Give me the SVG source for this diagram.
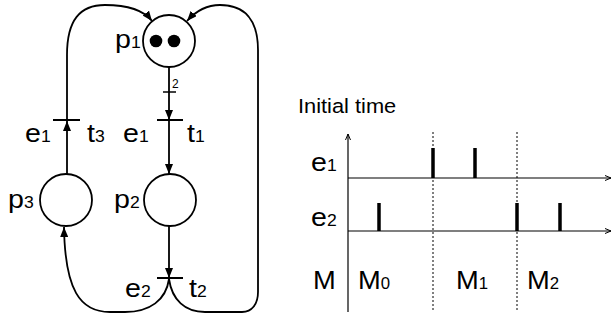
<svg xmlns="http://www.w3.org/2000/svg" width="612" height="320" viewBox="0 0 612 320">
<style>
.place{fill:#fff;stroke:#000;stroke-width:1.8}
.tok{fill:#000}
.bar{stroke:#000;stroke-width:2}
.arc{fill:none;stroke:#000;stroke-width:1.8}
.lbl{font-family:"Liberation Sans",Arial,sans-serif;font-size:26px;fill:#000}
.sub{font-size:16px}
.small{font-family:"Liberation Sans",Arial,sans-serif;font-size:12px;fill:#000}
.axis{stroke:#000;stroke-width:1.2;fill:none}
.dash{stroke:#000;stroke-width:1;stroke-dasharray:2 2}
.pulse{stroke:#000;stroke-width:3.5}
</style>
<defs>
<marker id="ah" markerWidth="10" markerHeight="8" refX="10" refY="4" orient="auto" markerUnits="userSpaceOnUse">
<path d="M0,0 L10,4 L0,8 Z" fill="#000"/>
</marker>
<marker id="ax" markerWidth="6" markerHeight="6" refX="6" refY="3" orient="auto" markerUnits="userSpaceOnUse">
<path d="M0,0.5 L6,3 L0,5.5" fill="none" stroke="#000" stroke-width="1"/>
</marker>
</defs>

<g id="connectors">
<line class="arc" x1="169" y1="67" x2="169" y2="120" marker-end="url(#ah)"/>
<line class="bar" x1="163" y1="92" x2="176" y2="92" style="stroke-width:1.5"/>
<line class="arc" x1="169" y1="120" x2="169" y2="174" marker-end="url(#ah)"/>
<line class="arc" x1="169" y1="226" x2="169" y2="278" marker-end="url(#ah)"/>
<line class="arc" x1="67" y1="174" x2="67" y2="121" marker-end="url(#ah)"/>
<path class="arc" d="M67 121 L67 55 C67 20 80 5 105 5 C130 5 145 12 152 21" marker-end="url(#ah)"/>
<path class="arc" d="M169 279 C172 300 185 312 205 312 L242 312 C252 312 258 304 258 292 L258 50 C258 20 245 5 220 5 C205 5 195 12 187 21" marker-end="url(#ah)"/>
<path class="arc" d="M169 279 C166 300 150 312 125 312 L110 312 C80 312 65 290 64 227" marker-end="url(#ah)"/>
</g>

<g id="p1">
<circle class="place" cx="169" cy="41" r="26"/>
<circle class="tok" cx="156" cy="41" r="6.3"/>
<circle class="tok" cx="174" cy="41" r="6.3"/>
<text class="lbl" transform="translate(115 48) scale(1.1 1)">p<tspan class="sub">1</tspan></text>
</g>
<g id="p2">
<circle class="place" cx="170" cy="200" r="26"/>
<text class="lbl" transform="translate(114 208) scale(1.1 1)">p<tspan class="sub">2</tspan></text>
</g>
<g id="p3">
<circle class="place" cx="66" cy="200" r="26"/>
<text class="lbl" transform="translate(8 208) scale(1.1 1)">p<tspan class="sub">3</tspan></text>
</g>
<g id="t1">
<line class="bar" x1="157" y1="120" x2="183" y2="120"/>
<text class="small" x="172" y="88">2</text>
<text class="lbl" transform="translate(123 142) scale(1.1 1)">e<tspan class="sub">1</tspan></text>
<text class="lbl" transform="translate(187 142) scale(1.1 1)">t<tspan class="sub">1</tspan></text>
</g>
<g id="t3">
<line class="bar" x1="53" y1="120" x2="80" y2="120"/>
<text class="lbl" transform="translate(25 142) scale(1.1 1)">e<tspan class="sub">1</tspan></text>
<text class="lbl" transform="translate(87 142) scale(1.1 1)">t<tspan class="sub">3</tspan></text>
</g>
<g id="t2">
<line class="bar" x1="157" y1="278" x2="183" y2="278"/>
<text class="lbl" transform="translate(125 297) scale(1.1 1)">e<tspan class="sub">2</tspan></text>
<text class="lbl" transform="translate(189 297) scale(1.1 1)">t<tspan class="sub">2</tspan></text>
</g>

<g id="timing">
<text class="lbl" transform="translate(298 113) scale(1.12 1)" style="font-size:19.5px">Initial time</text>
<line class="axis" x1="348" y1="312" x2="348" y2="134" marker-end="url(#ax)"/>
<line class="axis" x1="348" y1="178" x2="611" y2="178" marker-end="url(#ax)"/>
<line class="axis" x1="348" y1="231" x2="611" y2="231" marker-end="url(#ax)"/>
<line class="dash" x1="433" y1="132" x2="433" y2="312"/>
<line class="dash" x1="517" y1="132" x2="517" y2="312"/>
<line class="pulse" x1="433" y1="148" x2="433" y2="178"/>
<line class="pulse" x1="475" y1="148" x2="475" y2="178"/>
<line class="pulse" x1="379" y1="203" x2="379" y2="231"/>
<line class="pulse" x1="517" y1="203" x2="517" y2="231"/>
<line class="pulse" x1="560" y1="203" x2="560" y2="231"/>
<text class="lbl" transform="translate(311 171) scale(1.1 1)">e<tspan class="sub">1</tspan></text>
<text class="lbl" transform="translate(311 226) scale(1.1 1)">e<tspan class="sub">2</tspan></text>
<text class="lbl" transform="translate(313 289) scale(1.05 1)">M</text>
<text class="lbl" transform="translate(358 289) scale(1.05 1)">M<tspan class="sub">0</tspan></text>
<text class="lbl" transform="translate(456 289) scale(1.05 1)">M<tspan class="sub">1</tspan></text>
<text class="lbl" transform="translate(527 289) scale(1.05 1)">M<tspan class="sub">2</tspan></text>
</g>
</svg>
